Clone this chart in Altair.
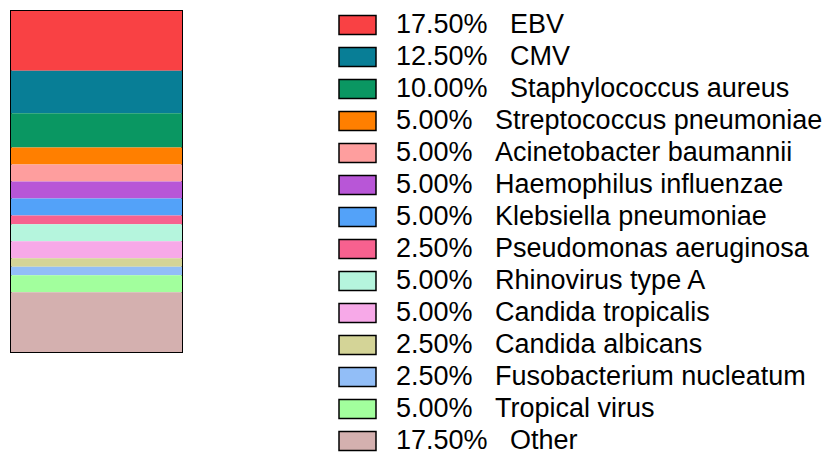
import altair as alt
import pandas as pd

names = ["EBV", "CMV", "Staphylococcus aureus", "Streptococcus pneumoniae",
         "Acinetobacter baumannii", "Haemophilus influenzae", "Klebsiella pneumoniae",
         "Pseudomonas aeruginosa", "Rhinovirus type A", "Candida tropicalis",
         "Candida albicans", "Fusobacterium nucleatum", "Tropical virus", "Other"]
percents = [17.5, 12.5, 10, 5, 5, 5, 5, 2.5, 5, 5, 2.5, 2.5, 5, 17.5]
colors = ["#F94144", "#087E96", "#0A9762", "#FF7F00", "#FE9E9E", "#B856D7",
          "#53A2F9", "#F7618F", "#B5F5DD", "#F7A9E8", "#D4D497", "#92BEF7",
          "#A2FF9D", "#D4B0AF"]

sp = "\u00a0\u00a0\u00a0"
labels = [f"{p:.2f}%{sp}{n}" for p, n in zip(percents, names)]
df = pd.DataFrame({"label": labels, "pct": percents, "order": list(range(len(names)))})

chart = alt.Chart(df).mark_rect().transform_stack(
    stack="pct", as_=["y0", "y1"], groupby=[],
    sort=[alt.SortField("order", order="ascending")]
).encode(
    x=alt.value(0),
    x2=alt.value("width"),
    y=alt.Y("y0:Q", scale=alt.Scale(domain=[0, 100], reverse=True, nice=False, zero=False), axis=None),
    y2="y1:Q",
    color=alt.Color(
        "label:N",
        scale=alt.Scale(domain=labels, range=colors),
        legend=alt.Legend(
            title=None, orient="none", legendX=327, legendY=2,
            symbolType="M-1,-0.514H1V0.514H-1Z", symbolSize=1369,
            symbolStrokeColor="black", symbolStrokeWidth=1.5, symbolOpacity=1,
            labelFont="Liberation Sans", labelFontSize=27, labelColor="black",
            labelOffset=19, labelLimit=800, rowPadding=5, clipHeight=24, padding=0,
        ),
    ),
).properties(
    width=171, height=341,
    padding={"left": 3, "top": 3, "right": 0, "bottom": 0},
).configure_view(stroke="black", strokeWidth=2)

chart.save("out.html", embed_options={"renderer": "svg", "actions": False})
